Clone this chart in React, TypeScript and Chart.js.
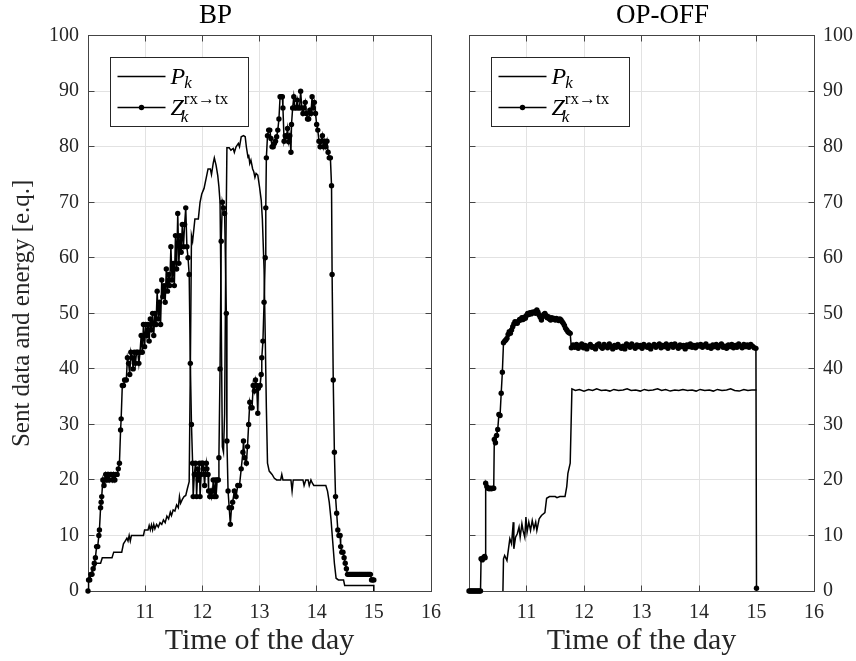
import React, { useEffect, useRef } from "react";
import { Chart, registerables } from "chart.js";

Chart.register(...registerables);

const FONT = "'Liberation Serif', 'Times New Roman', serif";
const TEXT_COLOR = "#262626";
const AXIS_COLOR = "#444444";
const GRID_COLOR = "#e2e2e2";

// axis ranges
const X_MIN = 10;
const X_MAX = 16;
const X_STEP = 1;
const Y_MIN = 0;
const Y_MAX = 100;
const Y_STEP = 10;

const PANEL_TITLES = ["BP", "OP-OFF"];
const X_TITLE = "Time of the day";
const Y_TITLE = "Sent data and energy [e.q.]";

// [time of day, value]
const bpPower: [number, number][] = [
  [10.0, 2], [10.04, 3], [10.1, 4], [10.15, 5], [10.22, 5], [10.25, 6], [10.42, 6], [10.45, 7],
  [10.59, 7], [10.62, 8.5], [10.65, 9], [10.68, 9.5], [10.7, 9], [10.72, 10], [10.74, 9], [10.76, 10],
  [10.97, 10], [10.99, 11], [11.05, 11], [11.07, 11.8], [11.09, 11], [11.11, 11.9], [11.13, 11],
  [11.15, 12], [11.17, 11.2], [11.2, 12], [11.23, 11.5], [11.26, 12.3], [11.29, 12], [11.32, 12.8],
  [11.35, 12.3], [11.38, 13.5], [11.41, 13], [11.44, 14.2], [11.46, 13.6], [11.49, 14.6], [11.52, 14.4],
  [11.55, 15.5], [11.58, 15], [11.6, 17], [11.62, 15.8], [11.65, 16.5], [11.68, 17], [11.71, 17.2],
  [11.74, 18.5], [11.77, 19.7], [11.79, 40], [11.81, 64], [11.83, 63], [11.85, 65], [11.87, 67],
  [11.93, 67], [11.96, 70], [11.99, 71.5], [12.03, 72.5], [12.07, 74.5], [12.1, 76], [12.14, 76],
  [12.16, 75], [12.19, 77], [12.21, 78], [12.24, 76.7], [12.27, 74.8], [12.29, 72.8], [12.31, 70],
  [12.33, 50], [12.35, 26], [12.37, 25], [12.39, 32], [12.41, 60], [12.43, 79.8], [12.47, 79.8],
  [12.5, 79.4], [12.54, 79.7], [12.56, 79], [12.59, 80], [12.63, 80.6], [12.65, 80], [12.68, 81.8],
  [12.72, 82], [12.75, 81.8], [12.77, 80], [12.8, 78], [12.81, 78.6], [12.83, 77], [12.85, 77.6],
  [12.88, 76], [12.9, 75.5], [12.92, 74.5], [12.94, 75.2], [12.97, 74.9], [13.0, 72.8], [13.03, 70.4],
  [13.05, 67], [13.08, 58], [13.1, 46], [13.12, 33], [13.14, 23], [13.17, 21.6], [13.22, 21],
  [13.26, 20.3], [13.3, 20], [13.37, 20], [13.39, 21], [13.41, 20], [13.55, 20], [13.57, 18],
  [13.59, 20], [13.76, 20], [13.78, 19], [13.81, 20], [13.85, 20], [13.87, 19], [13.9, 20],
  [13.92, 19.5], [13.95, 19], [14.16, 19], [14.19, 18], [14.22, 16], [14.25, 13], [14.28, 9],
  [14.31, 5], [14.34, 2.3], [14.38, 2], [14.47, 2], [14.49, 1], [15.0, 1], [15.0, 0],
];

const bpSent: [number, number][] = [
  [10.0, 0], [10.01, 2], [10.03, 2], [10.05, 3], [10.07, 3], [10.09, 4], [10.11, 5], [10.13, 6],
  [10.15, 8], [10.17, 8], [10.19, 10], [10.2, 11], [10.22, 15], [10.23, 16], [10.24, 17], [10.26, 20],
  [10.28, 19], [10.29, 20], [10.31, 21], [10.33, 20], [10.35, 21], [10.37, 20], [10.39, 21], [10.41, 21],
  [10.43, 20], [10.45, 21], [10.47, 20], [10.49, 21], [10.51, 21], [10.53, 22], [10.55, 23], [10.57, 29],
  [10.58, 31], [10.6, 37], [10.62, 37], [10.64, 38], [10.67, 38], [10.69, 42], [10.71, 41], [10.73, 39],
  [10.75, 43], [10.77, 42], [10.79, 40], [10.81, 43], [10.83, 41], [10.85, 43], [10.87, 43], [10.89, 41],
  [10.91, 43], [10.93, 46], [10.95, 43], [10.97, 48], [10.99, 44], [11.01, 48], [11.03, 46], [11.05, 48],
  [11.07, 45], [11.09, 49], [11.11, 47], [11.13, 50], [11.15, 46], [11.17, 50], [11.19, 48], [11.21, 54],
  [11.23, 49], [11.25, 52], [11.27, 48], [11.29, 56], [11.31, 53], [11.33, 55], [11.35, 52], [11.37, 58],
  [11.39, 54], [11.41, 57], [11.43, 55], [11.45, 62], [11.47, 56], [11.49, 59], [11.51, 55], [11.53, 64],
  [11.55, 58], [11.57, 68], [11.59, 59], [11.61, 64], [11.63, 61], [11.65, 66], [11.67, 62], [11.69, 66],
  [11.71, 69], [11.73, 62], [11.75, 60], [11.77, 57], [11.79, 41], [11.81, 30], [11.83, 23], [11.84, 17],
  [11.86, 21], [11.88, 23], [11.89, 21], [11.9, 17], [11.92, 22], [11.93, 20], [11.95, 23], [11.96, 17],
  [11.98, 21], [11.99, 23], [12.01, 23], [12.02, 22], [12.04, 19], [12.05, 21], [12.07, 23], [12.08, 22],
  [12.1, 21], [12.11, 18], [12.13, 17], [12.15, 18], [12.16, 17], [12.18, 18], [12.19, 20], [12.21, 17],
  [12.23, 20], [12.24, 17], [12.26, 20], [12.28, 20], [12.29, 24], [12.31, 40], [12.33, 63], [12.35, 70],
  [12.37, 69], [12.39, 68], [12.42, 50], [12.43, 27], [12.45, 18], [12.47, 15], [12.49, 12], [12.51, 15],
  [12.53, 16], [12.56, 18], [12.59, 17], [12.62, 19], [12.65, 19], [12.68, 22], [12.71, 25], [12.72, 27],
  [12.74, 24], [12.77, 23], [12.79, 26], [12.81, 30], [12.83, 34], [12.85, 33], [12.87, 33], [12.89, 37],
  [12.91, 36], [12.93, 38], [12.95, 37], [12.97, 32], [12.98, 36.5], [13.01, 37], [13.03, 39], [13.04, 42],
  [13.06, 45], [13.08, 52], [13.1, 60], [13.11, 69], [13.12, 78], [13.14, 82], [13.16, 83], [13.18, 83],
  [13.2, 81.5], [13.22, 80], [13.24, 80], [13.26, 80.6], [13.28, 81], [13.3, 81.8], [13.32, 83],
  [13.34, 85], [13.36, 89], [13.38, 89], [13.4, 89], [13.41, 87], [13.43, 81], [13.45, 82], [13.47, 81.8],
  [13.49, 83.3], [13.51, 80.9], [13.53, 82], [13.55, 79], [13.56, 84], [13.58, 87], [13.6, 89], [13.62, 87],
  [13.64, 87], [13.66, 88.4], [13.68, 87], [13.7, 87], [13.72, 90], [13.74, 87], [13.76, 86], [13.78, 87],
  [13.8, 88], [13.82, 86], [13.84, 85], [13.86, 85], [13.88, 86.6], [13.9, 86], [13.92, 89], [13.94, 87],
  [13.96, 88], [13.98, 86], [14.0, 84], [14.02, 83], [14.04, 81], [14.06, 80], [14.08, 81], [14.1, 82],
  [14.12, 80], [14.14, 81], [14.16, 80], [14.18, 81], [14.2, 79], [14.22, 78], [14.24, 78], [14.26, 73],
  [14.27, 57], [14.29, 38], [14.31, 25], [14.33, 17], [14.35, 14], [14.37, 11], [14.39, 10], [14.41, 10],
  [14.42, 8], [14.44, 7], [14.46, 7], [14.48, 6], [14.5, 5], [14.52, 4], [14.54, 3], [14.56, 3],
  [14.58, 3], [14.6, 3], [14.62, 3], [14.64, 3], [14.66, 3], [14.68, 3], [14.7, 3], [14.72, 3],
  [14.74, 3], [14.76, 3], [14.78, 3], [14.8, 3], [14.82, 3], [14.84, 3], [14.86, 3], [14.88, 3],
  [14.9, 3], [14.92, 3], [14.94, 3], [14.96, 2], [14.98, 2], [15.0, 2],
];

const opPower: [number, number][] = [
  [10.59, 0], [10.6, 5.8], [10.62, 6.4], [10.66, 5.5], [10.71, 9.4], [10.74, 8.5], [10.77, 12.4],
  [10.78, 7.6], [10.81, 9.7], [10.84, 10.3], [10.87, 11.5], [10.89, 9.7], [10.92, 12.1], [10.94, 10.9],
  [10.97, 9.7], [10.99, 13.3], [11.01, 10.6], [11.04, 12.4], [11.07, 10.9], [11.1, 12.7], [11.13, 11.2],
  [11.16, 12.4], [11.18, 10.9], [11.22, 13], [11.26, 13.6], [11.32, 14.1], [11.35, 16.7], [11.4, 17],
  [11.5, 17], [11.53, 16.8], [11.58, 17], [11.67, 17], [11.7, 18.8], [11.72, 21.2], [11.76, 23],
  [11.79, 36.4], [11.85, 36.1], [11.92, 36.3], [12.0, 36.0], [12.08, 36.3], [12.15, 36.1], [12.22, 36.4],
  [12.3, 36.1], [12.38, 36.2], [12.45, 36.0], [12.52, 36.3], [12.6, 36.1], [12.68, 36.2], [12.75, 36.4],
  [12.82, 36.1], [12.9, 36.2], [12.98, 36.0], [13.05, 36.3], [13.12, 36.1], [13.2, 36.2], [13.28, 36.4],
  [13.35, 36.1], [13.42, 36.3], [13.5, 36.0], [13.58, 36.2], [13.65, 36.1], [13.72, 36.3], [13.8, 36.1],
  [13.88, 36.2], [13.95, 36.0], [14.02, 36.3], [14.1, 36.1], [14.18, 36.2], [14.25, 36.0], [14.32, 36.3],
  [14.4, 36.1], [14.48, 36.2], [14.55, 36.4], [14.62, 36.1], [14.7, 36.0], [14.78, 36.3], [14.85, 36.1],
  [14.92, 36.2], [15.0, 36.2],
];

const opSent: [number, number][] = [
  [10.0, 0], [10.02, 0], [10.04, 0], [10.06, 0], [10.08, 0], [10.1, 0], [10.12, 0], [10.14, 0],
  [10.16, 0], [10.18, 0], [10.2, 0], [10.21, 5.8], [10.23, 5.6], [10.25, 6], [10.27, 6.2], [10.28, 6],
  [10.29, 19.4], [10.31, 18.8], [10.33, 18.5], [10.35, 18.4], [10.37, 18.5], [10.39, 18.4], [10.41, 18.5],
  [10.43, 18.5], [10.44, 27.3], [10.46, 26.7], [10.48, 28], [10.5, 29.1], [10.52, 31.8], [10.54, 31.6],
  [10.56, 35.6], [10.58, 39.4], [10.6, 44.7], [10.62, 45], [10.64, 45.2], [10.66, 45.5], [10.68, 46.2],
  [10.7, 46.7], [10.72, 46.4], [10.74, 47], [10.76, 47.6], [10.78, 48.1], [10.8, 48.5], [10.82, 48.3],
  [10.84, 48.2], [10.86, 48.6], [10.88, 48.9], [10.9, 48.8], [10.92, 49.2], [10.94, 48.9], [10.96, 49.3],
  [10.98, 49.1], [11.0, 49.6], [11.02, 50.0], [11.04, 49.8], [11.06, 50.1], [11.08, 49.9], [11.1, 50.2],
  [11.12, 50.1], [11.14, 50.3], [11.16, 50.0], [11.18, 50.6], [11.2, 50.2], [11.22, 49.7], [11.24, 49.3],
  [11.26, 48.8], [11.28, 49.4], [11.3, 49.8], [11.32, 50.0], [11.34, 49.6], [11.36, 49.2], [11.38, 49.4],
  [11.4, 49.0], [11.42, 48.8], [11.44, 49.2], [11.46, 49.0], [11.48, 49.1], [11.5, 48.8], [11.52, 49.1],
  [11.54, 48.9], [11.56, 48.7], [11.58, 49.0], [11.6, 48.8], [11.62, 48.5], [11.64, 48.2], [11.66, 47.8],
  [11.68, 47.3], [11.7, 47.0], [11.72, 46.7], [11.74, 46.5], [11.76, 46.4], [11.78, 43.8], [11.81, 44.3],
  [11.84, 43.9], [11.87, 44.4], [11.9, 43.7], [11.93, 44.1], [11.96, 44.5], [11.99, 43.8], [12.02, 44.2],
  [12.05, 43.6], [12.08, 44.1], [12.11, 44.4], [12.14, 43.9], [12.17, 44.0], [12.2, 43.6], [12.23, 44.3],
  [12.26, 44.5], [12.29, 44.0], [12.32, 43.7], [12.35, 44.4], [12.38, 44.1], [12.41, 43.8], [12.44, 44.5],
  [12.47, 44.0], [12.5, 43.6], [12.53, 44.2], [12.56, 43.9], [12.59, 44.4], [12.62, 44.0], [12.65, 43.7],
  [12.68, 44.1], [12.71, 43.6], [12.74, 44.5], [12.77, 44.2], [12.8, 43.9], [12.83, 44.5], [12.86, 44.1],
  [12.89, 43.7], [12.92, 44.3], [12.95, 44.0], [12.98, 44.2], [13.01, 43.7], [13.04, 44.4], [13.07, 44.1],
  [13.1, 43.9], [13.13, 44.3], [13.16, 43.6], [13.19, 44.1], [13.22, 44.4], [13.25, 43.9], [13.28, 44.2],
  [13.31, 44.5], [13.34, 43.8], [13.37, 44.2], [13.4, 44.0], [13.43, 44.5], [13.46, 43.7], [13.49, 44.2],
  [13.52, 44.4], [13.55, 43.9], [13.58, 44.5], [13.61, 44.1], [13.64, 43.7], [13.67, 44.3], [13.7, 44.0],
  [13.73, 44.2], [13.76, 43.6], [13.79, 44.3], [13.82, 44.0], [13.85, 44.5], [13.88, 43.9], [13.91, 44.2],
  [13.94, 43.8], [13.97, 44.3], [14.0, 44.1], [14.03, 44.4], [14.06, 43.9], [14.09, 44.2], [14.12, 44.5],
  [14.15, 43.9], [14.18, 44.1], [14.21, 43.7], [14.24, 44.3], [14.27, 44.0], [14.3, 44.4], [14.33, 43.8],
  [14.36, 44.2], [14.39, 44.5], [14.42, 43.9], [14.45, 44.1], [14.48, 43.7], [14.51, 44.3], [14.54, 44.0],
  [14.57, 44.4], [14.6, 43.8], [14.63, 44.2], [14.66, 43.9], [14.69, 44.5], [14.72, 44.1], [14.75, 43.8],
  [14.78, 44.4], [14.81, 44.0], [14.84, 44.3], [14.87, 43.9], [14.9, 44.4], [14.93, 44.1], [14.96, 43.8],
  [14.99, 43.7], [15.0, 0.5],
];

const toPoints = (rows: [number, number][]) => rows.map(([x, y]) => ({ x, y }));

const align = (v: number) => Math.round(v - 0.5) + 0.5;

const framePlugin = {
  id: "frameTicks",
  beforeDatasetsDraw(chart: any) {
    const { ctx, chartArea: a, scales } = chart;
    const L = align(a.left), R = align(a.right), T = align(a.top), B = align(a.bottom);
    ctx.save();
    ctx.strokeStyle = AXIS_COLOR;
    ctx.lineWidth = 1;
    ctx.beginPath();
    const len = 6;
    scales.x.ticks.forEach((t: any) => {
      const px = align(scales.x.getPixelForValue(t.value));
      ctx.moveTo(px, T); ctx.lineTo(px, T + len);
      ctx.moveTo(px, B); ctx.lineTo(px, B - len);
    });
    scales.y.ticks.forEach((t: any) => {
      const py = align(scales.y.getPixelForValue(t.value));
      ctx.moveTo(L, py); ctx.lineTo(L + len, py);
      ctx.moveTo(R, py); ctx.lineTo(R - len, py);
    });
    ctx.stroke();
    ctx.strokeRect(L, T, R - L, B - T);
    ctx.restore();
  },
};

const legendPlugin = {
  id: "mathLegend",
  afterDraw(chart: any) {
    const { ctx, chartArea: a } = chart;
    const bx = align(a.left + 22), by = align(a.top + 22), bw = 138, bh = 69;
    ctx.save();
    ctx.fillStyle = "#ffffff";
    ctx.fillRect(bx, by, bw, bh);
    ctx.strokeStyle = TEXT_COLOR;
    ctx.lineWidth = 1;
    ctx.strokeRect(bx, by, bw, bh);

    // entry 1: P_k
    ctx.strokeStyle = "#000";
    ctx.lineWidth = 1.5;
    ctx.beginPath();
    ctx.moveTo(bx + 7, by + 19);
    ctx.lineTo(bx + 55, by + 19);
    ctx.stroke();
    ctx.fillStyle = "#000";
    ctx.textBaseline = "alphabetic";
    ctx.textAlign = "left";
    ctx.font = `italic 24px ${FONT}`;
    ctx.fillText("P", bx + 60, by + 26);
    const wP = ctx.measureText("P").width;
    ctx.font = `italic 17px ${FONT}`;
    ctx.fillText("k", bx + 60 + wP - 1, by + 30);

    // entry 2: Z_k^{rx->tx}
    ctx.beginPath();
    ctx.moveTo(bx + 7, by + 50);
    ctx.lineTo(bx + 55, by + 50);
    ctx.stroke();
    ctx.beginPath();
    ctx.arc(bx + 31, by + 50, 2.7, 0, Math.PI * 2);
    ctx.fill();
    ctx.font = `italic 24px ${FONT}`;
    ctx.fillText("Z", bx + 60, by + 57);
    const wZ = ctx.measureText("Z").width;
    ctx.font = `italic 17px ${FONT}`;
    ctx.fillText("k", bx + 60 + wZ - 3, by + 64);
    ctx.font = `17px ${FONT}`;
    ctx.fillText("rx\u2192tx", bx + 60 + wZ, by + 46);
    ctx.restore();
  },
};

function makeConfig(isLeft: boolean, title: string, power: [number, number][], sent: [number, number][]) {
  return {
    type: "line",
    data: {
      datasets: [
        {
          label: "Z",
          data: toPoints(sent),
          borderColor: "#000",
          backgroundColor: "#000",
          borderWidth: 1.5,
          pointRadius: 2.7,
          pointHoverRadius: 2.7,
          pointBackgroundColor: "#000",
          pointBorderColor: "#000",
          pointBorderWidth: 0,
          tension: 0,
          clip: false,
        },
        {
          label: "P",
          data: toPoints(power),
          borderColor: "#000",
          borderWidth: 1.5,
          pointRadius: 0,
          pointHoverRadius: 0,
          tension: 0,
          clip: false,
        },
      ],
    },
    options: {
      responsive: false,
      animation: false,
      events: [],
      layout: { padding: isLeft ? { left: 0, right: 19, top: 0, bottom: 0 } : { left: 19, right: 0, top: 0, bottom: 0 } },
      plugins: {
        legend: { display: false },
        tooltip: { enabled: false },
        title: {
          display: true,
          text: title,
          color: "#000",
          font: { family: FONT, size: 27, weight: "normal" },
          padding: { top: 0, bottom: 3.3 },
        },
      },
      scales: {
        x: {
          type: "linear",
          min: X_MIN,
          max: X_MAX,
          ticks: {
            stepSize: X_STEP,
            color: TEXT_COLOR,
            font: { family: FONT, size: 20 },
            padding: 10,
            maxRotation: 0,
            autoSkip: false,
            callback: (v: number) => (v === X_MIN ? "" : String(v)),
          },
          grid: { color: GRID_COLOR, lineWidth: 1, drawTicks: false },
          border: { display: false },
          title: {
            display: true,
            text: X_TITLE,
            color: TEXT_COLOR,
            font: { family: FONT, size: 30 },
            padding: { top: 0, bottom: 2 },
          },
          afterFit: (s: any) => {
            s.height = 70;
            s.paddingLeft = 0;
            s.paddingRight = 0;
          },
        },
        y: {
          type: "linear",
          position: isLeft ? "left" : "right",
          min: Y_MIN,
          max: Y_MAX,
          ticks: {
            stepSize: Y_STEP,
            color: TEXT_COLOR,
            font: { family: FONT, size: 20 },
            padding: 9,
          },
          grid: { color: GRID_COLOR, lineWidth: 1, drawTicks: false },
          border: { display: false },
          title: isLeft
            ? {
                display: true,
                text: Y_TITLE,
                color: TEXT_COLOR,
                font: { family: FONT, size: 25 },
                padding: { top: 7, bottom: 0 },
              }
            : { display: false },
          afterFit: (s: any) => {
            s.width = isLeft ? 88 : 42;
            s.paddingTop = 0;
            s.paddingBottom = 0;
          },
        },
      },
    },
    plugins: [framePlugin, legendPlugin],
  };
}

function Panel(props: { isLeft: boolean; title: string; power: [number, number][]; sent: [number, number][]; left: number; width: number }) {
  const ref = useRef<HTMLCanvasElement | null>(null);
  useEffect(() => {
    if (!ref.current) return;
    const chart = new Chart(ref.current, makeConfig(props.isLeft, props.title, props.power, props.sent) as any);
    return () => chart.destroy();
  }, []);
  return (
    <canvas
      ref={ref}
      width={props.width}
      height={661}
      style={{ position: "absolute", left: props.left, top: 0, width: props.width, height: 661, display: "block" }}
    />
  );
}

export default function App() {
  return (
    <div style={{ position: "absolute", left: 0, top: 0, width: 856, height: 661, background: "#fff", overflow: "hidden" }}>
      <Panel isLeft={true} title={PANEL_TITLES[0]} power={bpPower} sent={bpSent} left={0} width={450} />
      <Panel isLeft={false} title={PANEL_TITLES[1]} power={opPower} sent={opSent} left={450} width={406} />
    </div>
  );
}
